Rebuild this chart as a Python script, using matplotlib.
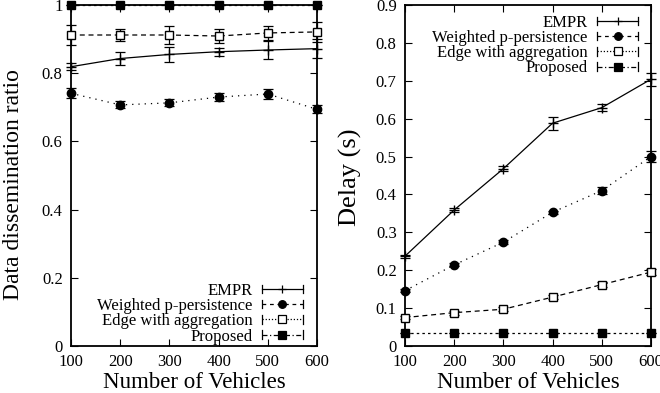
import matplotlib
matplotlib.use("Agg")
import matplotlib.pyplot as plt
from matplotlib.lines import Line2D
from matplotlib.legend_handler import HandlerBase

plt.rcParams["font.family"] = ["Liberation Serif", "DejaVu Serif"]

vehicles = [100, 200, 300, 400, 500, 600]
names = ["EMPR", "Weighted p-persistence", "Edge with aggregation", "Proposed"]

# data dissemination ratio
ratio_empr = [0.819, 0.843, 0.855, 0.863, 0.868, 0.872]
ratio_empr_err = [0.010, 0.020, 0.022, 0.012, 0.025, 0.027]
ratio_wpp = [0.741, 0.707, 0.713, 0.730, 0.739, 0.694]
ratio_wpp_err = [0.015, 0.010, 0.010, 0.012, 0.015, 0.012]
ratio_edge = [0.912, 0.912, 0.912, 0.909, 0.918, 0.921]
ratio_edge_err = [0.030, 0.018, 0.025, 0.020, 0.020, 0.030]
ratio_prop = [1.0, 1.0, 1.0, 1.0, 1.0, 1.0]
ratio_prop_err = [0.0, 0.0, 0.0, 0.0, 0.0, 0.0]

# delay (s)
delay_empr = [0.237, 0.359, 0.468, 0.588, 0.629, 0.704]
delay_empr_err = [0.004, 0.005, 0.007, 0.017, 0.010, 0.017]
delay_wpp = [0.146, 0.214, 0.274, 0.353, 0.410, 0.500]
delay_wpp_err = [0.004, 0.004, 0.005, 0.004, 0.010, 0.015]
delay_edge = [0.075, 0.088, 0.097, 0.129, 0.162, 0.195]
delay_edge_err = [0.005, 0.005, 0.005, 0.006, 0.006, 0.007]
delay_prop = [0.033, 0.033, 0.033, 0.033, 0.033, 0.033]
delay_prop_err = [0.0, 0.0, 0.0, 0.0, 0.0, 0.0]

styles = [
    dict(ls="-", marker="+", mfc="k", ms=7),
    dict(ls=(0, (1, 4)), marker="o", mfc="k", ms=6),
    dict(ls=(0, (4, 3)), marker="s", mfc="white", ms=6),
    dict(ls=(0, (2, 2.5)), marker="s", mfc="k", ms=6),
]
key_styles = [
    dict(ls="-", marker="+", mfc="k", ms=6),
    dict(ls=(0, (3, 3)), marker="o", mfc="k", ms=5.5),
    dict(ls=(0, (1, 1.5)), marker="s", mfc="white", ms=5.5),
    dict(ls=(0, (4, 2, 1, 2)), marker="s", mfc="k", ms=5.5),
]


class KeyHandler(HandlerBase):
    # gnuplot-like key sample: |---o---|
    def create_artists(self, legend, orig, xdescent, ydescent, width, height,
                       fontsize, trans):
        y = height / 2 - ydescent
        x0, x1 = -xdescent, width - xdescent
        line = Line2D([x0, x1], [y, y], color="k", lw=0.9,
                      linestyle=orig._key_ls)
        cap_l = Line2D([x0, x0], [y - 3, y + 3], color="k", lw=0.9)
        cap_r = Line2D([x1, x1], [y - 3, y + 3], color="k", lw=0.9)
        mk = Line2D([(x0 + x1) / 2], [y], ls="none", marker=orig.get_marker(),
                    mfc=orig.get_markerfacecolor(), mec="k",
                    ms=orig.get_markersize(), mew=0.9)
        arts = [line, cap_l, cap_r, mk]
        for a in arts:
            a.set_transform(trans)
        return arts


def key_handles():
    hs = []
    for st in key_styles:
        h = Line2D([], [], color="k", marker=st["marker"], mfc=st["mfc"],
                   ms=st["ms"])
        h._key_ls = st["ls"]
        hs.append(h)
    return hs


fig = plt.figure(figsize=(6.6, 3.93), dpi=100)
ax1 = fig.add_axes([0.1076, 0.1196, 0.3727, 0.8677])
ax2 = fig.add_axes([0.6136, 0.1196, 0.3727, 0.8677])


def draw(ax, series, errs):
    for nm, ys, es, st in zip(names, series, errs, styles):
        ax.errorbar(vehicles, ys, yerr=es, color="k", lw=0.9, capsize=3.5,
                    elinewidth=0.9, capthick=0.9, mec="k", label=nm,
                    clip_on=False, zorder=3, **st)
    ax.set_xlim(100, 600)
    ax.set_xticks(vehicles)
    ax.tick_params(direction="in", top=True, right=True, length=5,
                   labelsize=12)
    ax.tick_params(axis="x", pad=6)
    ax.tick_params(axis="y", pad=6)
    for s in ax.spines.values():
        s.set_linewidth(1.3)
    ax.set_xlabel("Number of Vehicles", fontsize=16.5, labelpad=1)


def key(ax, loc, anchor):
    ax.legend(key_handles(), names, handler_map={Line2D: KeyHandler()},
              loc=loc, bbox_to_anchor=anchor, frameon=False, fontsize=12,
              handlelength=2.5, handleheight=0.6, labelspacing=-0.05,
              borderaxespad=0.2, handletextpad=0.55, markerfirst=False)


draw(ax1, [ratio_empr, ratio_wpp, ratio_edge, ratio_prop],
     [ratio_empr_err, ratio_wpp_err, ratio_edge_err, ratio_prop_err])
ax1.set_ylim(0, 1)
ax1.set_yticks([0, 0.2, 0.4, 0.6, 0.8, 1.0])
ax1.set_yticklabels(["0", "0.2", "0.4", "0.6", "0.8", "1"])
ax1.set_ylabel("Data dissemination ratio", fontsize=17)
ax1.yaxis.set_label_coords(-0.19, 0.472)
key(ax1, "lower right", (0.985, -0.025))

draw(ax2, [delay_empr, delay_wpp, delay_edge, delay_prop],
     [delay_empr_err, delay_wpp_err, delay_edge_err, delay_prop_err])
ax2.set_ylim(0, 0.9)
ax2.set_yticks([0, 0.1, 0.2, 0.3, 0.4, 0.5, 0.6, 0.7, 0.8, 0.9])
ax2.set_yticklabels(["0", "0.1", "0.2", "0.3", "0.4", "0.5", "0.6", "0.7", "0.8", "0.9"])
ax2.set_ylabel("Delay (s)", fontsize=19)
ax2.yaxis.set_label_coords(-0.175, 0.494)
key(ax2, "upper right", (0.99, 1.0))

fig.savefig("out.png", dpi=100)
